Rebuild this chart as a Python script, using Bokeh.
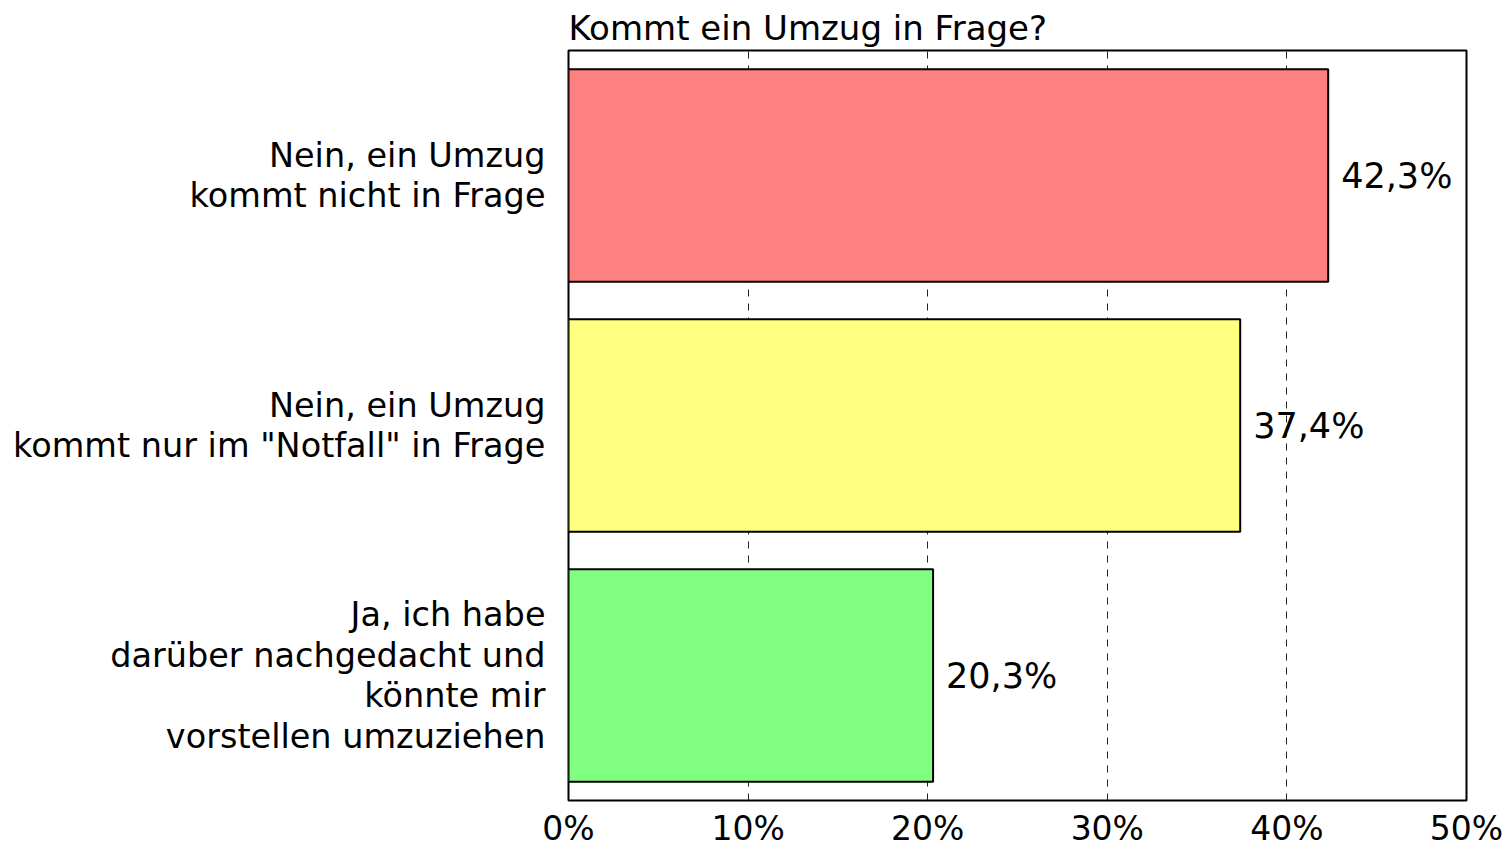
from bokeh.plotting import figure
from bokeh.models import FactorRange, Range1d, FixedTicker, ColumnDataSource
from bokeh.embed import file_html
from bokeh.resources import INLINE

title_text = "Kommt ein Umzug in Frage?"
categories = [
    "Nein, ein Umzug\nkommt nicht in Frage",
    "Nein, ein Umzug\nkommt nur im \"Notfall\" in Frage",
    "Ja, ich habe\ndarüber nachgedacht und\nkönnte mir\nvorstellen umzuziehen",
]
values = [42.3, 37.4, 20.3]
colors = ["#FF8080", "#FFFF80", "#80FF80"]
tick_values = [0, 10, 20, 30, 40, 50]
tick_labels = ["0%", "10%", "20%", "30%", "40%", "50%"]

FONT = "DejaVu Sans"

value_labels = [f"{v:.1f}".replace(".", ",") + "%" for v in values]
source = ColumnDataSource(dict(cat=categories, val=values, color=colors, lab=value_labels))

p = figure(
    width=1508, height=850,
    y_range=FactorRange(factors=list(reversed(categories))),
    x_range=Range1d(0, 50),
    output_backend="svg", toolbar_location=None,
    min_border_left=568, min_border_right=42, min_border_top=50, min_border_bottom=30,
)
p.title.text = title_text
p.title.text_font = FONT
p.title.text_font_size = "34px"
p.title.text_font_style = "normal"
p.title.align = "left"
p.title.text_color = "black"
p.title.standoff = 6

p.hbar(y="cat", right="val", left=0, height=0.85, fill_color="color",
       line_color="black", line_width=2, source=source)
p.text(x="val", y="cat", text="lab", x_offset=13, text_baseline="middle",
       text_align="left", text_font_size="35px", text_color="black",
       source=source, text_font={"value": FONT})

p.outline_line_color = "black"
p.outline_line_width = 2
p.background_fill_color = "white"
p.border_fill_color = "white"

p.xgrid.ticker = FixedTicker(ticks=tick_values)
p.xgrid.grid_line_color = "#222222"
p.xgrid.grid_line_dash = "7 7"
p.xgrid.grid_line_width = 1
p.ygrid.grid_line_color = None

p.xaxis.ticker = FixedTicker(ticks=tick_values)
p.xaxis.major_label_overrides = {t: l for t, l in zip(tick_values, tick_labels)}
p.xaxis.axis_line_color = None
p.xaxis.major_tick_line_color = None
p.xaxis.minor_tick_line_color = None
p.xaxis.major_tick_out = 0
p.xaxis.major_tick_in = 0
p.xaxis.minor_tick_out = 0
p.xaxis.major_label_text_font = FONT
p.xaxis.major_label_text_font_size = "33px"
p.xaxis.major_label_text_color = "black"
p.xaxis.major_label_standoff = 8

p.yaxis.axis_line_color = None
p.yaxis.major_tick_line_color = None
p.yaxis.minor_tick_line_color = None
p.yaxis.major_tick_out = 0
p.yaxis.major_tick_in = 0
p.yaxis.minor_tick_out = 0
p.yaxis.major_label_text_font = FONT
p.yaxis.major_label_text_font_size = "33.5px"
p.yaxis.major_label_text_color = "black"
p.yaxis.major_label_standoff = 23
p.yaxis.major_label_text_line_height = 1.04

open("out.html", "w").write(file_html(p, INLINE))
